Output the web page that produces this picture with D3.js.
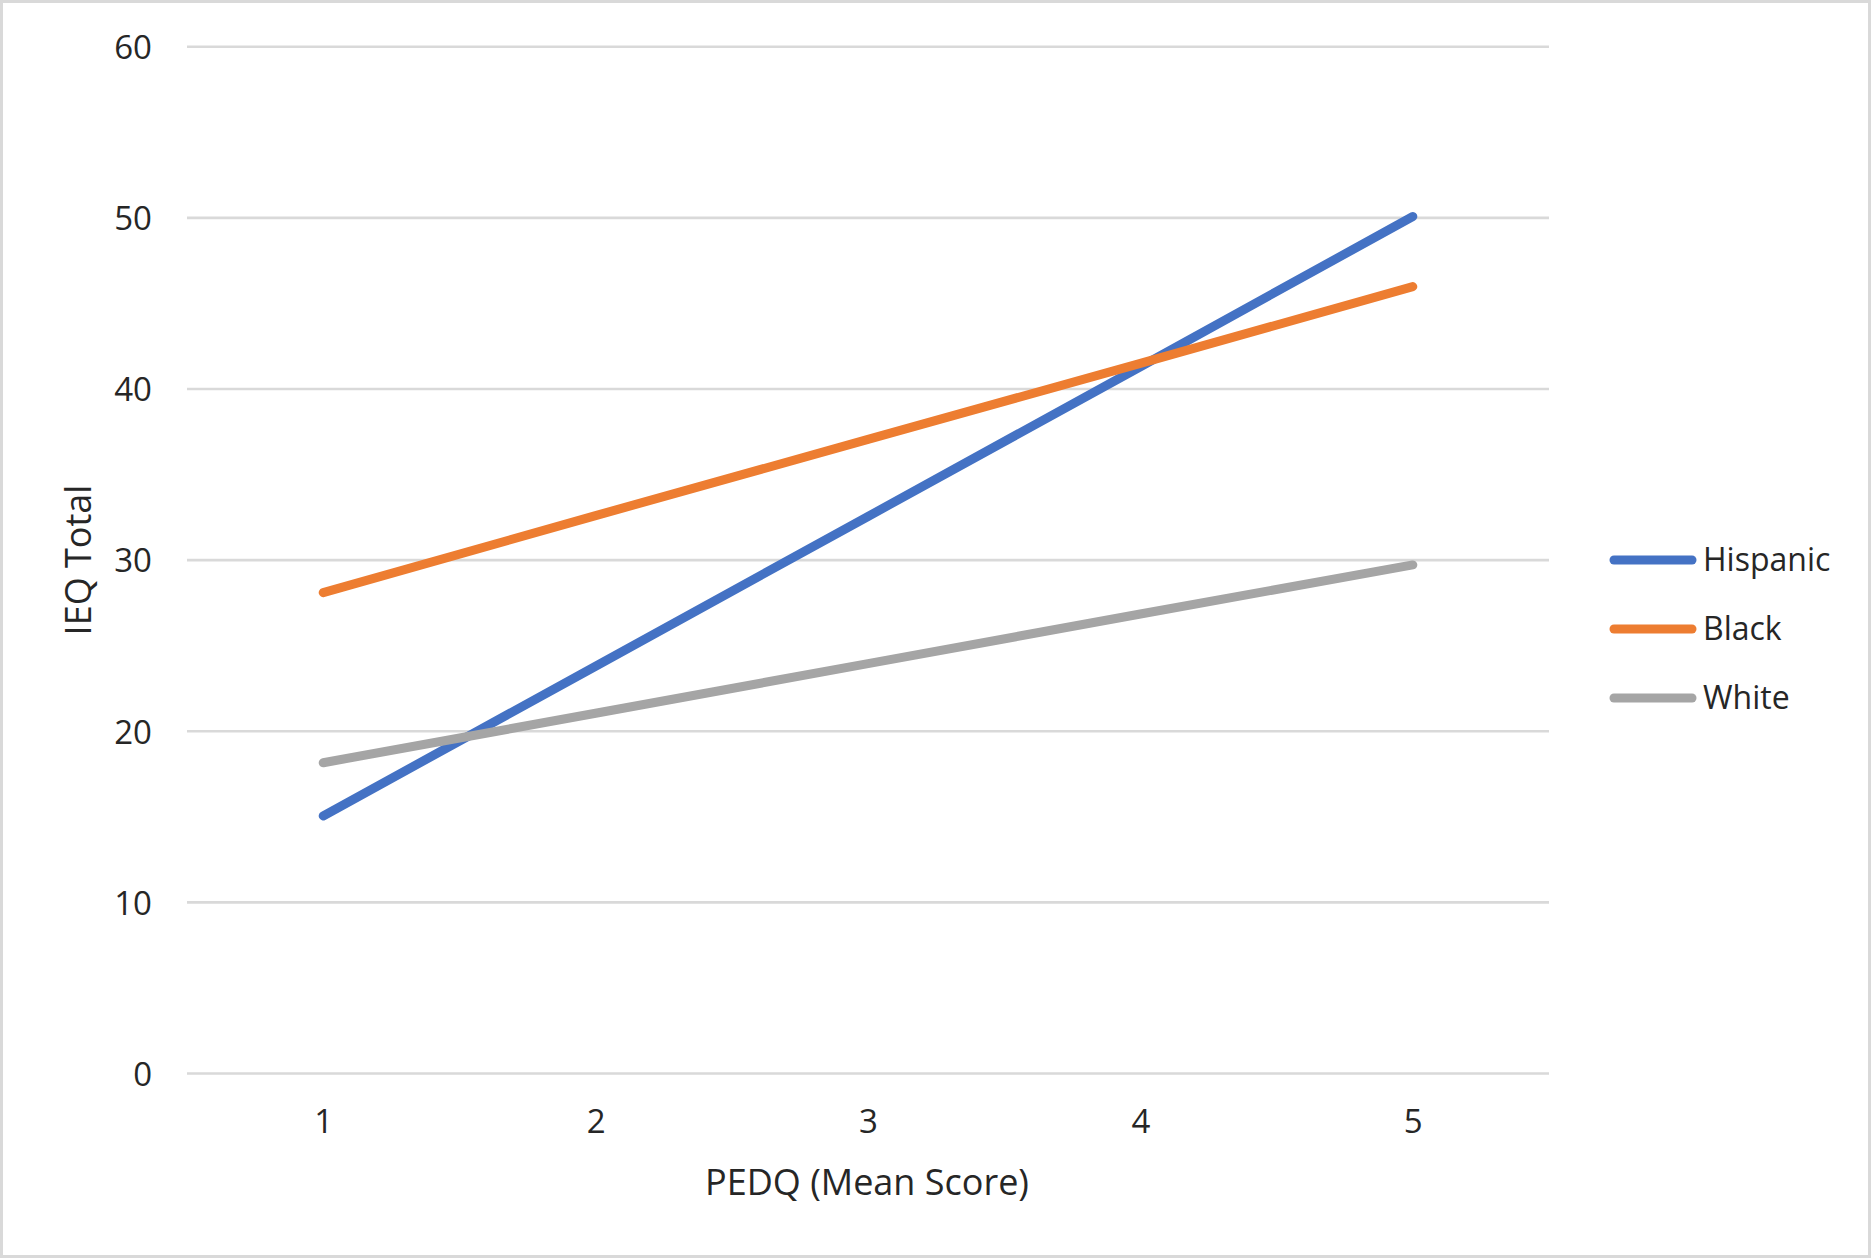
<!DOCTYPE html>
<html><head><meta charset="utf-8">
<script src="https://cdn.jsdelivr.net/npm/d3@7"></script>
<style>
html,body{margin:0;padding:0;background:#fff;}
svg{display:block;}
text{font-family:"Open Sans",sans-serif;fill:#262626;}
</style></head>
<body>
<script>
const categories = [1, 2, 3, 4, 5];
const hispanic = [15.05, 23.8, 32.55, 41.3, 50.08];
const black = [28.1, 32.6, 37.05, 41.5, 45.98];
const white = [18.16, 21.05, 23.95, 26.85, 29.72];
const seriesNames = ["Hispanic", "Black", "White"];
const seriesColors = ["#4472C4", "#ED7D31", "#A5A5A5"];
const yTicks = [0, 10, 20, 30, 40, 50, 60];
const xTitle = "PEDQ (Mean Score)";
const yTitle = "IEQ Total";

const W = 1871, H = 1258;
const series = [hispanic, black, white];

const svg = d3.select("body").append("svg").attr("width", W).attr("height", H);
svg.append("rect").attr("x", 1.5).attr("y", 1.5).attr("width", W - 3).attr("height", H - 3)
  .attr("fill", "#fff").attr("stroke", "#D9D9D9").attr("stroke-width", 3);

const x = d3.scalePoint().domain(categories).range([187, 1549]).padding(0.5);
const y = d3.scaleLinear().domain([0, 60]).range([1073.5, 46.7]);

// gridlines
svg.append("g").selectAll("line").data(yTicks).join("line")
  .attr("x1", 187).attr("x2", 1549)
  .attr("y1", d => y(d)).attr("y2", d => y(d))
  .attr("stroke", "#D9D9D9").attr("stroke-width", 2.6);

// y axis labels
const yAxis = d3.axisLeft(y).tickValues(yTicks).tickSize(0).tickPadding(0);
const gy = svg.append("g").attr("transform", "translate(152,0)").call(yAxis);
gy.select(".domain").remove();
gy.selectAll("text").attr("font-size", 33).attr("font-family", "'Open Sans',sans-serif")
  .attr("fill", "#262626").attr("dy", "0.36em");

// x axis labels
const xAxis = d3.axisBottom(x).tickSize(0).tickPadding(0);
const gx = svg.append("g").attr("transform", "translate(0,1110)").call(xAxis);
gx.select(".domain").remove();
gx.selectAll("text").attr("font-size", 33).attr("font-family", "'Open Sans',sans-serif")
  .attr("fill", "#262626").attr("dy", "0.71em");

// lines
const line = d3.line().x((d, i) => x(categories[i])).y(d => y(d));
svg.append("g").selectAll("path").data(series).join("path")
  .attr("d", d => line(d))
  .attr("fill", "none")
  .attr("stroke", (d, i) => seriesColors[i])
  .attr("stroke-width", 9)
  .attr("stroke-linecap", "round")
  .attr("stroke-linejoin", "round");

// axis titles
svg.append("text").attr("x", 867).attr("y", 1195).attr("text-anchor", "middle")
  .attr("font-size", 36).text(xTitle);
svg.append("text").attr("transform", "translate(91,560) rotate(-90)").attr("text-anchor", "middle")
  .attr("font-size", 36).text(yTitle);

// legend
const lg = svg.append("g").selectAll("g").data(seriesNames).join("g")
  .attr("transform", (d, i) => `translate(0,${560 + i * 69})`);
lg.append("line").attr("x1", 1614).attr("x2", 1692).attr("y1", 0).attr("y2", 0)
  .attr("stroke", (d, i) => seriesColors[i]).attr("stroke-width", 9).attr("stroke-linecap", "round");
lg.append("text").attr("x", 1703).attr("y", 11).attr("font-size", 32).text(d => d);
</script>
</body></html>
